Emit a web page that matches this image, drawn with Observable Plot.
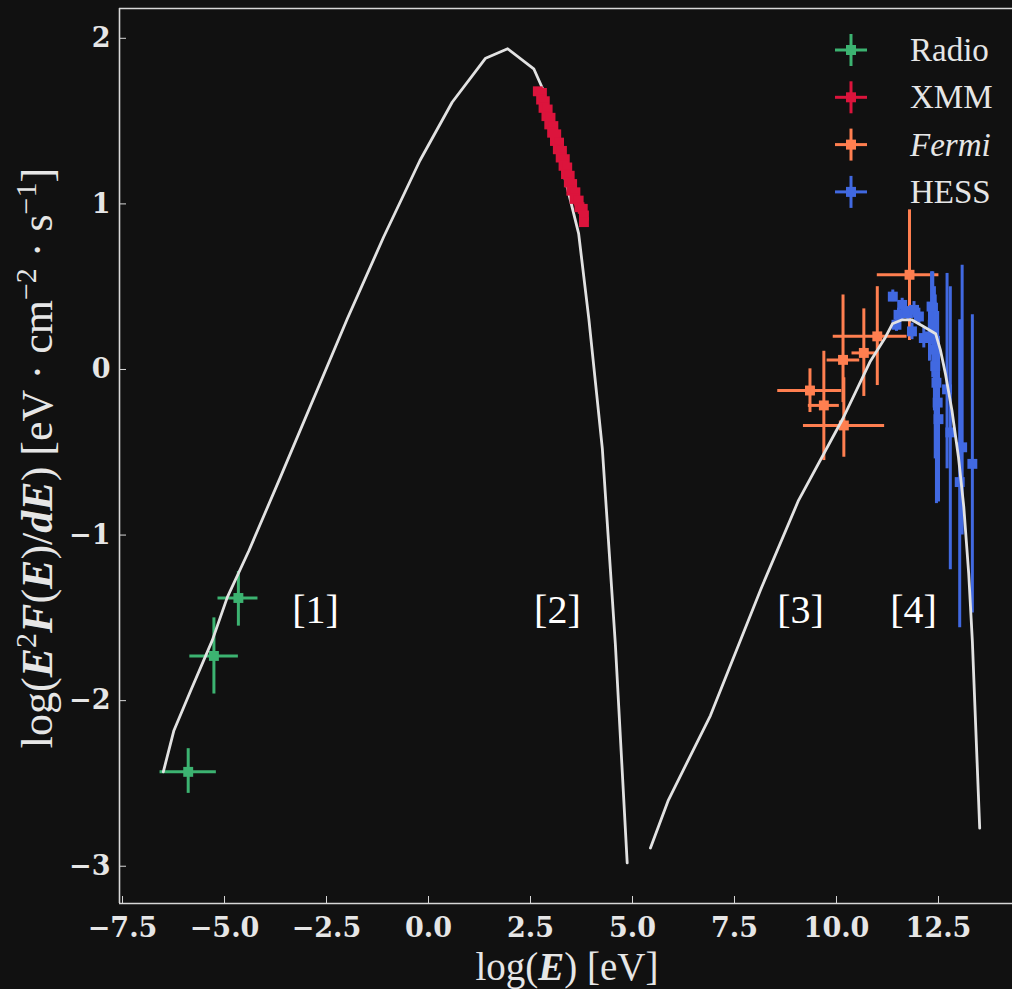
<!DOCTYPE html>
<html><head><meta charset="utf-8">
<script src="https://cdn.jsdelivr.net/npm/d3@7"></script>
<script src="https://cdn.jsdelivr.net/npm/@observablehq/plot@0.6"></script>
<style>
html,body{margin:0;padding:0;background:#111111;overflow:hidden;}
</style></head><body><div id="chart"></div>
<script>
// ---- tick labels ----
const xTicks = [-7.5, -5, -2.5, 0, 2.5, 5, 7.5, 10, 12.5];
const yTicks = [2, 1, 0, -1, -2, -3];

// ---- model curves ----
const syncX = [-6.50, -6.24, -5.83, -5.30, -4.93, -4.40, -3.63, -1.99, -1.10, -0.21, 0.58, 1.40, 1.94, 2.58, 2.79, 3.48, 3.68, 3.93, 4.26, 4.58, 4.87];
const syncY = [-2.43, -2.18, -1.94, -1.636, -1.375, -1.093, -0.65, 0.306, 0.80, 1.262, 1.614, 1.88, 1.937, 1.816, 1.70, 1.02, 0.82, 0.306, -0.477, -1.66, -2.98];

const icX = [5.44, 5.88, 6.91, 8.14, 9.07, 10.17, 10.83, 11.20, 11.37, 11.61, 11.84, 12.09, 12.43, 12.55, 12.67, 12.83, 12.99, 13.12, 13.24, 13.33, 13.51];
const icY = [-2.89, -2.60, -2.09, -1.33, -0.79, -0.29, 0.05, 0.195, 0.276, 0.30, 0.30, 0.266, 0.216, 0.115, -0.026, -0.248, -0.53, -0.83, -1.23, -1.64, -2.77];

// ---- Radio ----
const radioX   = [-4.66, -5.26, -5.89];
const radioY   = [-1.38, -1.73, -2.43];
const radioXLo = [-5.16, -5.85, -6.58];
const radioXHi = [-4.18, -4.66, -5.20];
const radioYLo = [-1.55, -1.96, -2.56];
const radioYHi = [-1.22, -1.50, -2.29];

// ---- XMM ----
const xmmX = [2.68, 2.78, 2.76, 2.85, 2.82, 2.92, 2.89, 2.99, 2.96, 3.06, 3.03, 3.13, 3.10, 3.20, 3.17, 3.27, 3.24, 3.34, 3.31, 3.40, 3.37, 3.46, 3.44, 3.52, 3.50, 3.60, 3.58, 3.68, 3.70, 3.78, 3.81, 3.81];
const xmmY = [1.68, 1.67, 1.63, 1.62, 1.58, 1.57, 1.53, 1.52, 1.48, 1.47, 1.43, 1.42, 1.38, 1.37, 1.33, 1.32, 1.28, 1.27, 1.23, 1.22, 1.18, 1.17, 1.13, 1.12, 1.08, 1.07, 1.03, 1.02, 0.98, 0.97, 0.93, 0.89];

// ---- Fermi ----
const fermiX   = [9.35, 9.69, 10.18, 10.16, 10.67, 11.00, 11.79];
const fermiY   = [-0.127, -0.217, -0.338, 0.058, 0.10, 0.20, 0.572];
const fermiXLo = [8.56, 9.31, 9.19, 9.77, 10.38, 9.92, 11.00];
const fermiXHi = [10.13, 10.07, 11.18, 10.57, 10.96, 11.73, 12.51];
const fermiYLo = [-0.26, -0.55, -0.53, -0.20, -0.163, -0.097, 0.175];
const fermiYHi = [0.004, 0.11, -0.05, 0.45, 0.366, 0.50, 0.964];

// ---- HESS ----
const hessX   = [11.38, 11.61, 11.52, 11.47, 11.75, 11.90, 12.02, 11.85, 12.14, 12.28, 12.33, 12.36, 12.40, 12.42, 12.45, 12.48, 12.50, 12.71, 12.79, 13.08, 13.02, 13.33];
const hessY   = [0.44, 0.39, 0.33, 0.27, 0.34, 0.36, 0.32, 0.23, 0.19, 0.20, 0.38, 0.27, 0.12, 0.02, -0.08, -0.20, -0.30, -0.12, -0.38, -0.47, -0.68, -0.57];
const hessYLo = [0.41, 0.35, 0.29, 0.23, 0.30, 0.31, 0.27, 0.18, 0.13, 0.05, 0.15, -0.05, -0.25, -0.54, -0.81, -0.60, -0.80, -0.60, -1.21, -1.00, -1.56, -1.47];
const hessYHi = [0.48, 0.43, 0.37, 0.31, 0.38, 0.41, 0.37, 0.28, 0.25, 0.35, 0.59, 0.59, 0.50, 0.45, 0.40, 0.35, 0.20, 0.58, 0.50, 0.63, 0.30, 0.33];

// ---- legend / annotations ----
const seriesNames  = ["Radio", "XMM", "Fermi", "HESS"];
const seriesColors = ["#3cb371", "#dc143c", "#ff7f50", "#4169e1"];
const regionLabels = ["[1]", "[2]", "[3]", "[4]"];
const regionX      = [-2.77, 3.16, 9.12, 11.89];
const regionY      = [-1.455, -1.455, -1.455, -1.455];

const curveColor = "#e2e2e2";
const textColor = "#e6e6e6";

const zip = (o) => o[Object.keys(o)[0]].map((_, i) => Object.fromEntries(Object.entries(o).map(([k, v]) => [k, v[i]])));
const sync = zip({x: syncX, y: syncY});
const ic = zip({x: icX, y: icY});
const radio = zip({x: radioX, y: radioY, xlo: radioXLo, xhi: radioXHi, ylo: radioYLo, yhi: radioYHi});
const xmm = zip({x: xmmX, y: xmmY});
const fermi = zip({x: fermiX, y: fermiY, xlo: fermiXLo, xhi: fermiXHi, ylo: fermiYLo, yhi: fermiYHi});
const hess = zip({x: hessX, y: hessY, ylo: hessYLo, yhi: hessYHi});
const regions = zip({label: regionLabels, x: regionX, y: regionY});

const xDomain = [-7.574, 14.314];
const yDomain = [-3.225, 2.18];
const EW = 3, R = 5.6;

function errMarks(data, color, withX) {
  const m = [];
  m.push(Plot.ruleX(data, {x: "x", y1: "ylo", y2: "yhi", stroke: color, strokeWidth: EW}));
  if (withX) m.push(Plot.ruleY(data, {y: "y", x1: "xlo", x2: "xhi", stroke: color, strokeWidth: EW}));
  m.push(Plot.dot(data, {x: "x", y: "y", symbol: "square", r: R, fill: color, stroke: null}));
  return m;
}

const plot = Plot.plot({
  width: 1012, height: 989,
  marginLeft: 119, marginRight: 0, marginTop: 8, marginBottom: 86,
  style: {background: "#111111", color: textColor, fontFamily: "DejaVu Serif"},
  x: {domain: xDomain, label: null},
  y: {domain: yDomain, label: null},
  marks: [
    ...errMarks(radio, seriesColors[0], true),
    Plot.line(sync, {x: "x", y: "y", stroke: curveColor, strokeWidth: 2.8}),
    Plot.dot(xmm, {x: "x", y: "y", symbol: "square", r: R, fill: seriesColors[1], stroke: null}),
    ...errMarks(fermi, seriesColors[2], true),
    ...errMarks(hess, seriesColors[3], false),
    Plot.line(ic, {x: "x", y: "y", stroke: curveColor, strokeWidth: 2.8}),
    Plot.text(regions, {x: "x", y: "y", text: "label", fill: "#ffffff", fontSize: 40, fontFamily: "Liberation Serif", textAnchor: "middle", lineAnchor: "middle"}),
    Plot.ruleX([xDomain[0]], {stroke: "#d8d8d8", strokeWidth: 1.6}),
    Plot.ruleY(yDomain, {stroke: "#d8d8d8", strokeWidth: 1.6}),
    Plot.axisX({ticks: xTicks, tickSize: -7, tickPadding: 21, tickFormat: d3.format(".1f"), fontSize: 27, fontWeight: "bold", fontFamily: "DejaVu Serif", label: null, stroke: "#d8d8d8", fill: textColor}),
    Plot.axisY({ticks: yTicks, tickSize: -7, tickPadding: 16, tickFormat: d3.format("d"), fontSize: 27, fontWeight: "bold", fontFamily: "DejaVu Serif", label: null, stroke: "#d8d8d8", fill: textColor})
  ]
});
document.getElementById("chart").appendChild(plot);

// ---- legend and axis titles ----
const svg = d3.select(plot);
const lg = svg.append("g");
seriesNames.forEach((name, i) => {
  const cx = 851, cy = 50 + i * 47.3, c = seriesColors[i];
  lg.append("line").attr("x1", cx - 16).attr("x2", cx + 16).attr("y1", cy).attr("y2", cy).attr("stroke", c).attr("stroke-width", EW);
  lg.append("line").attr("x1", cx).attr("x2", cx).attr("y1", cy - 16).attr("y2", cy + 16).attr("stroke", c).attr("stroke-width", EW);
  lg.append("rect").attr("x", cx - 5).attr("y", cy - 5).attr("width", 10).attr("height", 10).attr("fill", c);
  lg.append("text").attr("x", 910).attr("y", cy + 11).attr("fill", textColor).attr("text-anchor", "start")
    .attr("font-family", "Liberation Serif").attr("font-size", 33)
    .attr("font-style", name === "Fermi" ? "italic" : "normal").text(name);
});

function addParts(t, parts) {
  parts.forEach(p => {
    const s = t.append("tspan").text(p.t);
    if (p.b) s.attr("font-weight", "bold").attr("font-style", "italic");
    if (p.dy) s.attr("dy", p.dy);
    if (p.fs) s.attr("font-size", p.fs);
  });
}
const xt = svg.append("text").attr("x", 567).attr("y", 980).attr("text-anchor", "middle")
  .attr("fill", textColor).attr("font-family", "Liberation Serif").attr("font-size", 39);
addParts(xt, [{t: "log("}, {t: "E", b: true}, {t: ") [eV]"}]);

const yt = svg.append("text").attr("transform", "translate(52,458) rotate(-90)").attr("text-anchor", "middle")
  .attr("fill", textColor).attr("font-family", "Liberation Serif").attr("font-size", 44);
addParts(yt, [
  {t: "log("}, {t: "E", b: true}, {t: "2", fs: 30, dy: -16}, {t: "F", b: true, dy: 16}, {t: "("}, {t: "E", b: true}, {t: ")/"},
  {t: "dE", b: true}, {t: ") [eV · cm"}, {t: "−2", fs: 30, dy: -16}, {t: " · s", dy: 16}, {t: "−1", fs: 30, dy: -16}, {t: "]", dy: 16}
]);
</script></body></html>
